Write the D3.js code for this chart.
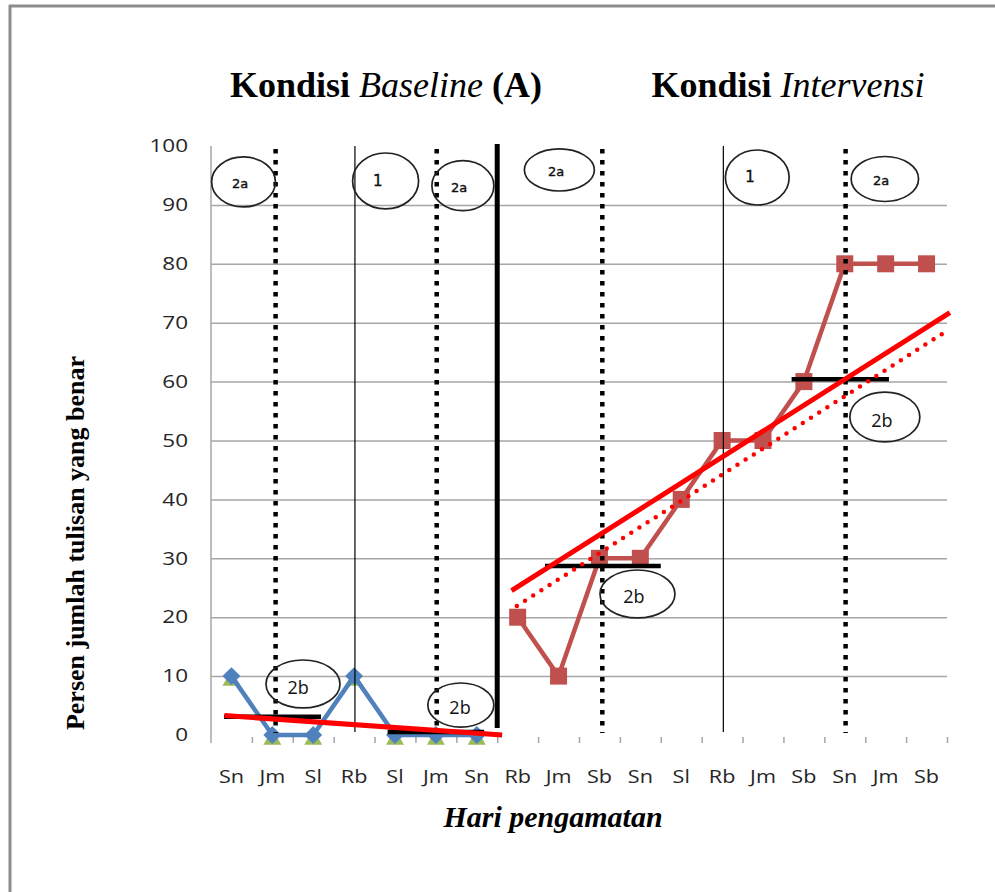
<!DOCTYPE html>
<html><head><meta charset="utf-8">
<script src="https://cdn.jsdelivr.net/npm/d3@7"></script>
<style>body{margin:0;background:#fff}svg{display:block}</style>
</head><body><svg id="c" width="995" height="892"></svg>
<script>
// ---------- data ----------
const days = ["Sn","Jm","Sl","Rb","Sl","Jm","Sn","Rb","Jm","Sb","Sn","Sl","Rb","Jm","Sb","Sn","Jm","Sb"];
const baselineValues = [10,0,0,10,0,0,0];            // days 0-6 (blue diamonds)
const baselineTriangles = [10,0,0,10,0,0,0];         // green triangles under the diamonds
const interventionValues = [20,10,30,30,40,50,50,60,80,80,80]; // days 7-17
const interventionStart = 7;
const yTicks = [0,10,20,30,40,50,60,70,80,90,100];
const gridTicks = [10,20,30,40,50,60,70,80,90];
const phaseLine = [7.0];                 // thick phase change line (day units)
const thinLines = [3.52, 12.53];         // thin solid vertical lines
const dottedLines = [1.58, 5.52, 9.57, 15.52];
const levelLines = [
  {x0:0.32, x1:2.69, v:3.1},
  {x0:4.32, x1:6.68, v:0.5},
  {x0:8.17, x1:11.0, v:28.7},
  {x0:14.2, x1:16.58, v:60.4}
];
const trendSolid = [
  {x0:0.33, v0:3.3, x1:7.12, v1:0.0},
  {x0:7.35, v0:24.5, x1:18.07, v1:71.7}
];
const trendDotted = [{x0:7.48, v0:21.9, x1:17.97, v1:68.5}];
const notes = [
  {t:"2a", cx:0.795, cy:93.9, rx:0.78, ry:4.24, tx:0.71, ty:93.7},
  {t:"1",  cx:4.27,  cy:94.06, rx:0.807, ry:4.75, tx:4.08, ty:94.06},
  {t:"2a", cx:6.16,  cy:93.26, rx:0.758, ry:4.24, tx:6.07, ty:93.04},
  {t:"2b", cx:2.25,  cy:8.66, rx:0.905, ry:4.07, tx:2.13, ty:7.98},
  {t:"2b", cx:6.11,  cy:5.09, rx:0.807, ry:3.74, tx:6.09, ty:4.58},
  {t:"2a", cx:8.52,  cy:95.93, rx:0.856, ry:3.57, tx:8.44, ty:95.6},
  {t:"1",  cx:13.36, cy:94.65, rx:0.78, ry:4.67, tx:13.18, ty:94.74},
  {t:"2a", cx:16.48, cy:94.4, rx:0.824, ry:3.82, tx:16.39, ty:94.23},
  {t:"2b", cx:10.43, cy:23.94, rx:0.917, ry:4.07, tx:10.34, ty:23.43},
  {t:"2b", cx:16.48, cy:53.99, rx:0.856, ry:4.24, tx:16.41, ty:53.3}
];

// ---------- scales ----------
const svg = d3.select("#c");
const x = d3.scaleLinear().domain([0, days.length]).range([211, 947]);
const xb = d3.scaleBand().domain(d3.range(days.length)).range([211, 947]).padding(0);
const y = d3.scaleLinear().domain([0, 100]).range([735, 146]);

// frame
svg.append("line").attr("x1",10).attr("x2",10).attr("y1",5).attr("y2",892).attr("stroke","#8c8c8c").attr("stroke-width",3);
svg.append("line").attr("x1",9).attr("x2",995).attr("y1",6).attr("y2",6).attr("stroke","#8c8c8c").attr("stroke-width",3);

// gridlines
const gy = svg.append("g").attr("transform",`translate(${x(0)},0)`)
  .call(d3.axisLeft(y).tickValues(gridTicks).tickSize(-(x(18)-x(0))).tickFormat(""));
gy.select(".domain").remove();
gy.selectAll("line").attr("stroke","#a6a6a6").attr("stroke-width",1.5);

// y axis line
svg.append("line").attr("x1",x(0)).attr("x2",x(0)).attr("y1",y(100)).attr("y2",y(0)+8)
  .attr("stroke","#a6a6a6").attr("stroke-width",1.5);

// y labels
const ya = svg.append("g").attr("transform",`translate(${x(0)},0)`)
  .call(d3.axisLeft(y).tickValues(yTicks).tickSize(0).tickPadding(23));
ya.select(".domain").remove();
ya.selectAll("text").attr("x",0).attr("transform","translate(-23,0) scale(1.25,1)")
  .attr("font-family","Open Sans").attr("font-size",18).attr("fill","#262626");

// x boundary ticks
const xt = svg.append("g").attr("transform",`translate(0,${y(0)+2})`)
  .call(d3.axisBottom(x).tickValues(d3.range(1, days.length+1)).tickSize(6).tickFormat(""));
xt.select(".domain").remove();
xt.selectAll("line").attr("stroke","#a6a6a6").attr("stroke-width",1.5);

// x labels
const xa = svg.append("g").attr("transform",`translate(0,${y(0)})`)
  .call(d3.axisBottom(xb).tickFormat(i=>days[i]).tickSize(0).tickPadding(35));
xa.select(".domain").remove();
xa.selectAll("text").attr("transform","scale(1.2,1)")
  .attr("font-family","Open Sans").attr("font-size",18).attr("fill","#262626");

// ---------- series ----------
const cx = i => xb(i) + xb.bandwidth()/2;
const line = d3.line().x(d=>cx(d.i)).y(d=>y(d.v));
const bData = baselineValues.map((v,i)=>({i, v}));
const tData = baselineTriangles.map((v,i)=>({i, v}));
const iData = interventionValues.map((v,k)=>({i:k+interventionStart, v}));

svg.append("g").selectAll("path").data(tData).join("path")
  .attr("d", d3.symbol(d3.symbolTriangle, 140)())
  .attr("transform", d=>`translate(${cx(d.i)},${y(d.v)+4.5})`)
  .attr("fill","#9BBB59");
svg.append("path").datum(bData).attr("d",line).attr("fill","none")
  .attr("stroke","#4F81BD").attr("stroke-width",4.5).attr("stroke-linejoin","round");
svg.append("g").selectAll("path").data(bData).join("path")
  .attr("d", d3.symbol(d3.symbolSquare, 161)())
  .attr("transform", d=>`translate(${cx(d.i)},${y(d.v)}) rotate(45)`)
  .attr("fill","#4F81BD");

svg.append("path").datum(iData).attr("d",line).attr("fill","none")
  .attr("stroke","#C0504D").attr("stroke-width",4.5).attr("stroke-linejoin","round");
svg.append("g").selectAll("path").data(iData).join("path")
  .attr("d", d3.symbol(d3.symbolSquare, 289)())
  .attr("transform", d=>`translate(${cx(d.i)},${y(d.v)})`)
  .attr("fill","#C0504D");

// ---------- vertical lines ----------
svg.append("g").selectAll("line").data(thinLines).join("line")
  .attr("x1",d=>x(d)).attr("x2",d=>x(d)).attr("y1",y(100)).attr("y2",y(0)-3)
  .attr("stroke","#000").attr("stroke-width",1.2);
svg.append("g").selectAll("line").data(dottedLines).join("line")
  .attr("x1",d=>x(d)).attr("x2",d=>x(d)).attr("y1",y(100)+3).attr("y2",y(0)-2)
  .attr("stroke","#000").attr("stroke-width",4.5).attr("stroke-dasharray","4.5,6.5");
svg.append("g").selectAll("line").data(phaseLine).join("line")
  .attr("x1",d=>x(d)).attr("x2",d=>x(d)).attr("y1",y(100)-2).attr("y2",y(0)-7)
  .attr("stroke","#000").attr("stroke-width",5);

// level lines
svg.append("g").selectAll("line").data(levelLines).join("line")
  .attr("x1",d=>x(d.x0)).attr("x2",d=>x(d.x1)).attr("y1",d=>y(d.v)).attr("y2",d=>y(d.v))
  .attr("stroke","#000").attr("stroke-width",4.5);

// trend lines
svg.append("g").selectAll("line").data(trendSolid).join("line")
  .attr("x1",d=>x(d.x0)).attr("x2",d=>x(d.x1)).attr("y1",d=>y(d.v0)).attr("y2",d=>y(d.v1))
  .attr("stroke","#FF0000").attr("stroke-width",5);
svg.append("g").selectAll("line").data(trendDotted).join("line")
  .attr("x1",d=>x(d.x0)).attr("x2",d=>x(d.x1)).attr("y1",d=>y(d.v0)).attr("y2",d=>y(d.v1))
  .attr("stroke","#FF0000").attr("stroke-width",4.5).attr("stroke-linecap","round")
  .attr("stroke-dasharray","0,9.7");

// ---------- callout ellipses ----------
const ng = svg.append("g").selectAll("g").data(notes).join("g");
ng.append("ellipse")
  .attr("cx",d=>x(d.cx)).attr("cy",d=>y(d.cy))
  .attr("rx",d=>x(d.cx+d.rx)-x(d.cx)).attr("ry",d=>y(d.cy-d.ry)-y(d.cy))
  .attr("fill","none").attr("stroke","#222").attr("stroke-width",1.7);
ng.append("text")
  .attr("x",d=>x(d.tx)).attr("y",d=>y(d.ty)).attr("dy","0.35em")
  .attr("text-anchor","middle")
  .attr("font-family",d=>d.t==="2b" ? "Open Sans" : "DejaVu Sans")
  .attr("font-size",d=>d.t==="2b" ? 18 : (d.t==="1" ? 15 : 13))
  .attr("fill","#111").attr("stroke","#111").attr("stroke-width",d=>d.t==="2b" ? 0 : 0.4)
  .text(d=>d.t);

// ---------- titles ----------
const t1 = svg.append("text").attr("x",386).attr("y",97).attr("text-anchor","middle")
  .attr("font-family","Liberation Serif").attr("font-size",36).attr("fill","#000");
t1.append("tspan").attr("font-weight","bold").text("Kondisi ");
t1.append("tspan").attr("font-style","italic").text("Baseline");
t1.append("tspan").attr("font-weight","bold").text(" (A)");
const t2 = svg.append("text").attr("x",788).attr("y",97).attr("text-anchor","middle")
  .attr("font-family","Liberation Serif").attr("font-size",36).attr("fill","#000");
t2.append("tspan").attr("font-weight","bold").text("Kondisi ");
t2.append("tspan").attr("font-style","italic").text("Intervensi");

svg.append("text").attr("transform","translate(84,543) rotate(-90)").attr("text-anchor","middle")
  .attr("font-family","Liberation Serif").attr("font-weight","bold").attr("font-size",26)
  .attr("fill","#000").text("Persen jumlah tulisan yang benar");

svg.append("text").attr("x",553).attr("y",827).attr("text-anchor","middle")
  .attr("font-family","Liberation Serif").attr("font-weight","bold").attr("font-style","italic")
  .attr("font-size",30).attr("fill","#000").text("Hari pengamatan");
</script></body></html>
